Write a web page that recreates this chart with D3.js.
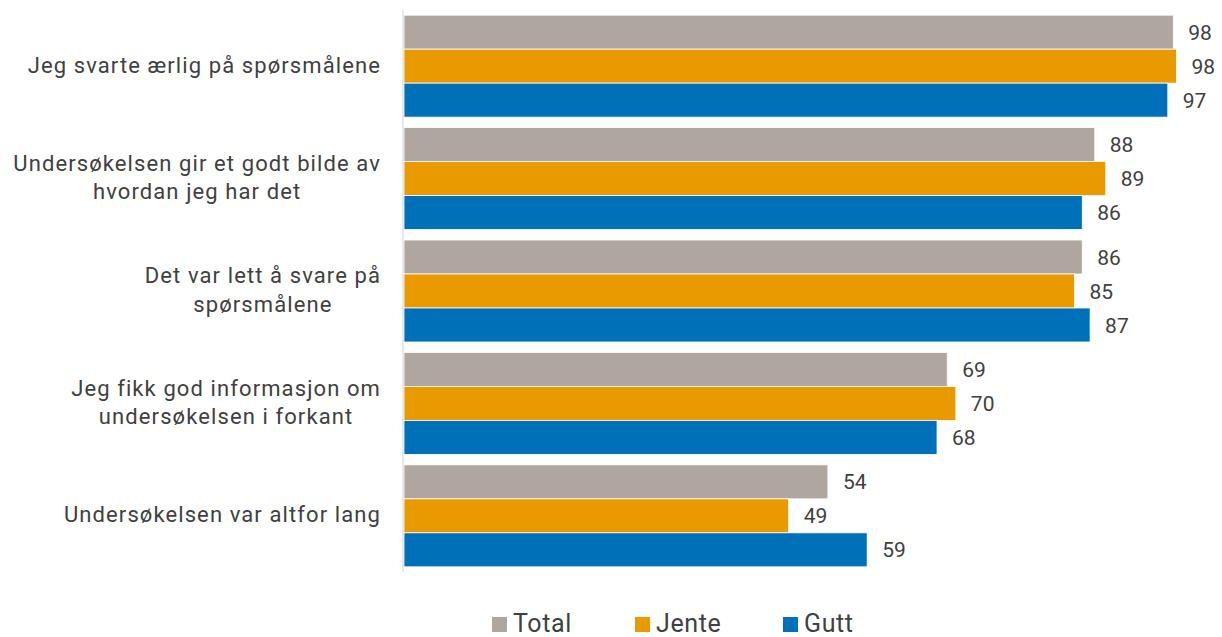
<!DOCTYPE html>
<html><head><meta charset="utf-8">
<script src="https://cdn.jsdelivr.net/npm/d3@7"></script>
<style>
body{margin:0;background:#fff;}
text{font-family:Roboto, "Noto Sans", sans-serif;fill:#404040;}
</style></head>
<body><svg id="c" width="1222" height="637"></svg>
<script>
const categories = [
  "Jeg svarte ærlig på spørsmålene",
  "Undersøkelsen gir et godt bilde av|hvordan jeg har det",
  "Det var lett å svare på|spørsmålene",
  "Jeg fikk god informasjon om|undersøkelsen i forkant",
  "Undersøkelsen var altfor lang"
];
const seriesNames = ["Total", "Jente", "Gutt"];
const seriesColors = ["#AEA69F", "#E89A00", "#0070B9"];
const totalValues = [98, 88, 86.4, 69.2, 54];
const jenteValues = [98.4, 89.4, 85.4, 70.3, 49];
const guttValues = [97.3, 86.4, 87.4, 67.9, 59];
const seriesValues = [totalValues, jenteValues, guttValues];

const svg = d3.select("#c");
const x = d3.scaleLinear().domain([0, 100]).range([404, 1189]);
const y = d3.scaleBand().domain(d3.range(categories.length)).range([10, 572]).paddingInner(0.093).paddingOuter(0.046);
const ys = d3.scaleBand().domain(d3.range(seriesNames.length)).range([0, y.bandwidth()]);

const g = svg.append("g");
categories.forEach((c, i) => {
  seriesNames.forEach((s, j) => {
    const v = seriesValues[j][i];
    g.append("rect")
      .attr("x", x(0)).attr("y", y(i) + ys(j))
      .attr("width", x(v) - x(0)).attr("height", ys.bandwidth())
      .attr("fill", seriesColors[j]).attr("stroke", "#fff").attr("stroke-width", 0.8);
    g.append("text")
      .attr("x", x(v) + 15).attr("y", y(i) + ys(j) + ys.bandwidth() / 2)
      .attr("dy", "0.36em").attr("font-size", 21)
      .text(Math.round(v));
  });
});

// axis line
svg.append("line").attr("x1", 403).attr("x2", 403).attr("y1", 10).attr("y2", 572)
  .attr("stroke", "#d9d9d9").attr("stroke-width", 1.2);

// category labels
categories.forEach((c, i) => {
  const lines = c.split("|");
  const grp = svg.append("g");
  const lh = 28.5;
  const cy = y(i) + y.bandwidth() / 2;
  const texts = lines.map((l, k) => grp.append("text")
    .attr("y", cy + (k - (lines.length - 1) / 2) * lh)
    .attr("dy", "0.3em").attr("font-size", 22).attr("letter-spacing", 1.1)
    .attr("text-anchor", "middle").text(l));
  const maxW = d3.max(texts, t => t.node().getComputedTextLength());
  texts.forEach(t => t.attr("x", 381 - maxW / 2));
});

// legend
const legX = [492, 635, 783];
seriesNames.forEach((s, j) => {
  svg.append("rect").attr("x", legX[j]).attr("y", 617).attr("width", 15).attr("height", 15).attr("fill", seriesColors[j]);
  svg.append("text").attr("x", legX[j] + 21).attr("y", 632).attr("font-size", 25).attr("letter-spacing", 0.6).text(s);
});
</script></body></html>
